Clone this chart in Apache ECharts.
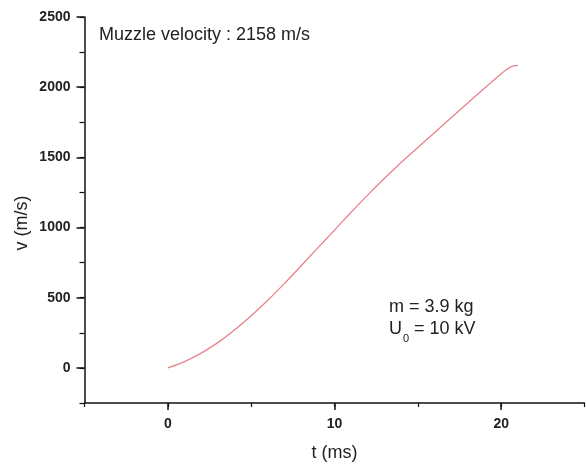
<!DOCTYPE html>
<html>
<head>
<meta charset="utf-8">
<script src="https://cdn.jsdelivr.net/npm/echarts@6/dist/echarts.min.js"></script>
<style>
html,body{margin:0;padding:0;background:#fff;}
#chart{width:586px;height:467px;}
</style>
</head>
<body>
<div id="chart"></div>
<script>
// time (ms)
const tMs = [0, 1, 2, 3, 4, 5, 6, 7, 8, 9, 10, 11, 12, 13, 14, 15, 16, 17, 18, 19, 20, 20.3, 20.6, 21];
// velocity (m/s)
const velocity = [0, 45, 105, 180, 270, 372, 482, 602, 728, 855, 982, 1109, 1233, 1351, 1464, 1570, 1676, 1782, 1888, 1992, 2095, 2124, 2147, 2156];
const xMajorTicks = [0, 10, 20];
const yMajorTicks = [0, 500, 1000, 1500, 2000, 2500];
const titleText = 'Muzzle velocity : 2158 m/s';
const massText = 'm = 3.9 kg';
const xName = 't (ms)';
const yName = 'v (m/s)';

const FONT = '"Liberation Sans", Arial, sans-serif';
const chart = echarts.init(document.getElementById('chart'));
const grid = {left: 84.5, right: 1.5, top: 17, bottom: 62};
const axisLineStyle = {color: '#111', width: 1.5};
const labelStyle = {color: '#222', fontSize: 14, fontWeight: 'bold', fontFamily: FONT, margin: 14,
  formatter: v => String(v)};

const option = {
  backgroundColor: '#fff',
  animation: false,
  grid: grid,
  xAxis: [
    {
      type: 'value', min: -5, max: 25, interval: 5, position: 'bottom',
      axisLine: {show: true, onZero: false, lineStyle: axisLineStyle},
      axisTick: {show: true, length: 4, lineStyle: {color: '#111', width: 1.2}},
      axisLabel: {show: false},
      splitLine: {show: false},
      name: xName, nameLocation: 'middle', nameGap: 41,
      nameTextStyle: {fontSize: 18, color: '#222', fontFamily: FONT}
    },
    {
      type: 'value', min: -5, max: 25, position: 'bottom',
      axisLine: {show: false, onZero: false},
      axisTick: {show: true, length: 7, customValues: xMajorTicks, lineStyle: {color: '#111', width: 1.5}},
      axisLabel: Object.assign({customValues: xMajorTicks}, labelStyle),
      splitLine: {show: false}
    }
  ],
  yAxis: [
    {
      type: 'value', min: -250, max: 2500, interval: 250, position: 'left',
      axisLine: {show: true, onZero: false, lineStyle: axisLineStyle},
      axisTick: {show: true, length: 5, lineStyle: {color: '#111', width: 1.2}},
      axisLabel: {show: false},
      splitLine: {show: false}
    },
    {
      type: 'value', min: -250, max: 2500, position: 'left',
      axisLine: {show: false, onZero: false},
      axisTick: {show: true, length: 8, customValues: yMajorTicks, lineStyle: {color: '#111', width: 1.5}},
      axisLabel: Object.assign({customValues: yMajorTicks}, labelStyle),
      splitLine: {show: false}
    }
  ],
  series: [{
    type: 'line',
    xAxisIndex: 0, yAxisIndex: 0,
    data: tMs.map((t, i) => [t, velocity[i]]),
    smooth: 0.3,
    showSymbol: false,
    lineStyle: {color: '#e8828c', width: 1.3}
  }],
  graphic: [
    {type: 'text', left: 99, top: 26, style: {text: titleText, fontSize: 18, fill: '#222', fontFamily: FONT}},
    {type: 'text', x: 21.7, y: 223, rotation: Math.PI / 2,
      style: {text: yName, fontSize: 18, fill: '#222', fontFamily: FONT, align: 'center', verticalAlign: 'middle'}},
    {type: 'text', left: 389, top: 298, style: {text: massText, fontSize: 18, fill: '#222', fontFamily: FONT}},
    {type: 'text', left: 389, top: 320, style: {text: 'U', fontSize: 18, fill: '#222', fontFamily: FONT}},
    {type: 'text', left: 403, top: 333, style: {text: '0', fontSize: 11, fill: '#222', fontFamily: FONT}},
    {type: 'text', left: 414, top: 320, style: {text: '= 10 kV', fontSize: 18, fill: '#222', fontFamily: FONT}}
  ]
};
chart.setOption(option);
</script>
</body>
</html>
